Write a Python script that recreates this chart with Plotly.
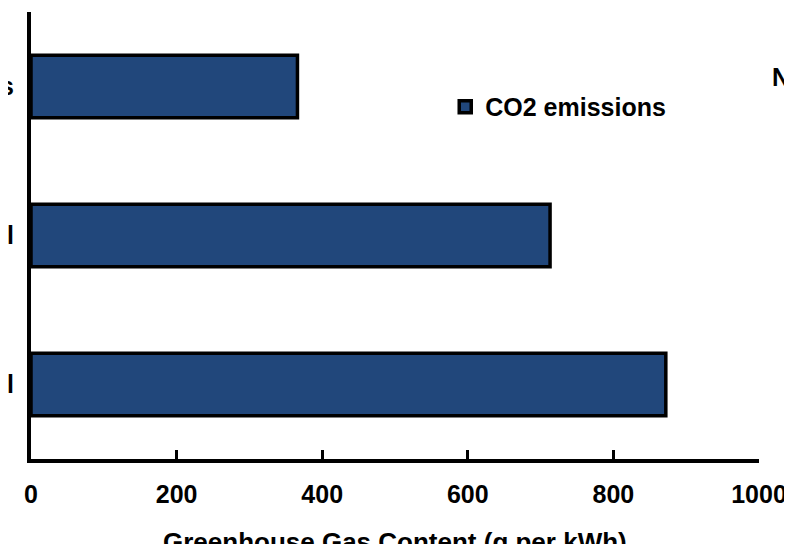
import plotly.graph_objects as go

categories = ["Natural Gas", "Oil", "Coal"]
co2_values = [366, 713, 872]
series_name = "CO2 emissions"
x_ticks = [0, 200, 400, 600, 800, 1000]
x_title = "Greenhouse Gas Content (g per kWh)"
corner_text = "N"

FONT = "Liberation Sans, Arial, sans-serif"
BAR_COLOR = "#21477b"
FS = 25

fig = go.Figure()
fig.add_trace(go.Bar(
    x=co2_values, y=categories, orientation="h", name=series_name,
    marker=dict(color=BAR_COLOR, line=dict(color="black", width=3.5)),
    showlegend=True,
))

fig.update_layout(
    width=792, height=544,
    margin=dict(l=23, r=41, t=4, b=93),
    paper_bgcolor="white", plot_bgcolor="white",
    font=dict(family=FONT, size=FS, color="black", weight="bold"),
    bargap=0.58,
    showlegend=True,
    legend=dict(
        x=0.569, y=0.839, xanchor="left", yanchor="top",
        font=dict(family=FONT, size=FS, color="black", weight="bold"),
        bgcolor="rgba(0,0,0,0)", itemwidth=30,
    ),
    xaxis=dict(
        range=[0, 1000], tickvals=x_ticks, ticktext=[str(v) for v in x_ticks],
        showline=True, linecolor="black", linewidth=4,
        ticks="inside", ticklen=9, tickwidth=3, tickcolor="black",
        showgrid=False, zeroline=False, automargin=False,
        ticklabelstandoff=10,
        tickfont=dict(family=FONT, size=FS, color="black", weight="bold"),
    ),
    yaxis=dict(
        autorange="reversed",
        showline=True, linecolor="black", linewidth=4,
        ticks="", showgrid=False, zeroline=False, automargin=False,
        ticklabelstandoff=8,
        tickfont=dict(family=FONT, size=FS, color="black", weight="bold"),
    ),
    annotations=[
        dict(text=x_title, xref="paper", yref="paper", x=0.5, y=-0.148,
             xanchor="center", yanchor="top", showarrow=False,
             font=dict(family=FONT, size=26, color="black", weight="bold")),
        dict(text=corner_text, xref="paper", yref="paper", x=1.015, y=0.855,
             xanchor="left", yanchor="middle", showarrow=False,
             font=dict(family=FONT, size=FS, color="black", weight="bold")),
    ],
)

fig.write_html("out.html")
